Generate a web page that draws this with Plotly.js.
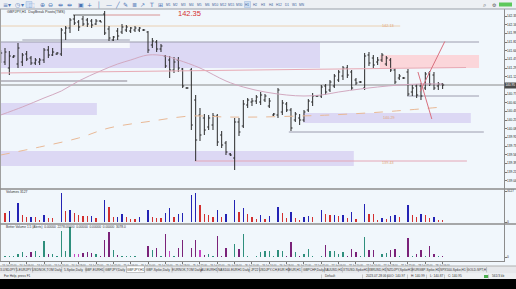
<!DOCTYPE html>
<html><head><meta charset="utf-8">
<script src="https://cdn.plot.ly/plotly-3.0.1.min.js"></script>
<style>html,body{margin:0;padding:0;background:#000;overflow:hidden}#chart{width:516px;height:289px}</style>
</head><body><div id="chart"></div>
<script>
// ---------- DATA ----------
const openP = [141.45,141.41,141.29,141.51,141.37,141.41,141.57,141.49,141.39,141.41,
141.45,141.65,141.55,141.57,141.57,141.99,142.09,142.27,142.21,142.27,
142.25,142.23,142.17,142.23,142.37,142.07,141.85,142.03,142.01,142.05,
142.03,142.05,142.05,142.05,142.01,141.75,141.81,141.67,141.53,141.45,
141.25,141.45,141.27,140.89,141.25,140.65,140.35,140.29,140.11,140.15,
140.33,139.95,139.79,139.57,139.49,140.21,140.13,140.55,140.61,140.63,
140.61,140.65,140.53,140.35,140.35,140.41,140.57,140.45,140.25,140.29,
140.25,140.45,140.61,140.73,140.73,140.93,140.85,140.93,141.05,141.13,
141.29,141.21,141.05,141.01,140.89,141.55,141.49,141.41,141.45,141.37,
141.45,141.25,141.09,141.09,141.21,140.81,140.93,140.93,140.89,141.19,
141.15,140.93,140.97];
const highP = [141.65,141.69,141.63,141.55,141.79,141.59,141.63,141.53,141.49,141.49,
141.69,141.73,141.69,141.61,142.09,142.13,142.29,142.35,142.25,142.33,
142.29,142.27,142.27,142.25,142.43,142.13,141.93,142.09,142.17,142.15,
142.11,142.13,142.11,142.07,142.03,141.89,141.85,141.77,141.55,141.53,
141.51,141.51,141.29,140.91,141.29,140.75,140.49,140.37,140.35,140.39,
140.37,140.03,139.83,139.59,140.29,140.29,140.65,140.69,140.69,140.75,
140.81,140.77,140.69,140.39,140.89,140.65,140.61,140.49,140.41,140.37,
140.45,140.67,140.79,140.75,140.95,140.97,141.05,141.17,141.25,141.33,
141.35,141.25,141.09,141.03,141.59,141.61,141.55,141.51,141.59,141.53,
141.49,141.29,141.17,141.11,141.27,140.95,140.97,140.99,141.21,141.23,
141.21,141.01,140.99];
const lowP = [141.39,141.35,141.15,141.49,141.29,141.33,141.43,141.35,141.35,141.35,
141.39,141.49,141.53,141.55,141.53,141.85,141.99,142.15,142.03,142.13,
142.11,142.09,142.15,142.21,141.95,141.83,141.83,141.85,141.97,142.01,
141.99,142.01,142.01,142.03,141.59,141.69,141.61,141.61,141.29,141.09,
141.19,141.21,140.89,140.87,140.05,139.43,139.83,139.95,140.05,140.05,
139.73,139.69,139.55,139.53,139.25,139.93,140.09,140.49,140.53,140.57,
140.55,140.61,140.49,140.33,140.29,140.35,140.41,140.03,140.21,140.15,
140.21,140.41,140.53,140.71,140.69,140.75,140.81,140.89,141.01,141.05,
141.09,140.85,140.95,140.99,140.85,141.33,141.29,141.35,141.41,141.33,
141.21,140.97,141.05,141.07,140.73,140.73,140.69,140.65,140.85,140.93,
140.85,140.85,140.87];
const closeP = [141.59,141.61,141.53,141.53,141.69,141.55,141.47,141.39,141.45,141.45,
141.65,141.55,141.61,141.59,142.05,142.09,142.25,142.19,142.11,142.17,
142.17,142.15,142.23,142.21,141.99,141.89,141.91,141.93,142.11,142.11,
142.09,142.09,142.09,142.05,141.65,141.83,141.67,141.73,141.33,141.25,
141.41,141.29,140.93,140.89,140.15,139.85,139.95,140.05,140.29,140.33,
139.81,139.75,139.61,139.55,140.21,140.01,140.57,140.65,140.63,140.71,
140.75,140.73,140.63,140.37,140.85,140.59,140.45,140.09,140.37,140.25,
140.41,140.63,140.73,140.73,140.91,140.81,141.01,141.13,141.21,141.29,
141.15,140.89,140.99,141.01,141.53,141.39,141.35,141.45,141.55,141.49,
141.25,141.01,141.13,141.09,140.77,140.89,140.75,140.73,141.17,140.97,
140.89,140.97,140.95];
const tickVolume = [1000,900,1100,50,1900,700,470,530,470,200,
700,400,380,50,2900,1100,1200,900,700,600,
580,620,400,50,2200,1500,500,540,800,500,
300,280,500,50,1200,500,400,360,900,1400,
500,800,900,50,2700,2900,1700,800,700,500,
1200,500,800,50,2200,1000,1400,800,500,300,
700,300,600,50,1500,900,400,1000,400,200,
500,600,500,50,1200,800,680,720,600,700,
400,1000,300,50,1800,800,760,200,400,300,
600,700,500,50,1700,700,500,800,700,400,
500,200,180];
const betterVolume = [60,60,130,70,330,470,130,470,600,70,
1570,270,330,70,2570,600,3000,330,330,400,
500,400,270,70,1730,2500,670,230,130,130,
130,130,50,50,1070,730,900,70,2330,570,
130,900,1730,50,900,1670,670,230,330,70,
2070,130,900,50,1330,800,2330,130,50,130,
470,570,570,130,670,600,130,1470,470,130,
330,830,130,50,130,1230,630,570,330,470,
130,800,470,70,2000,670,670,50,330,400,
670,800,130,50,1900,130,330,730,130,1070,
330,130,130];
const churnBars = [17,18,39,46];
const maIdx = [0,5,10,14,18,23,27,30,34,38,41,46,52,56,61,66,70,74,78,83,87,92,97,102];
const maVal = [140.35,140.51,140.69,140.83,141.03,141.23,141.37,141.45,141.55,141.53,141.45,141.29,141.03,140.91,140.81,140.75,140.73,140.75,140.81,140.87,140.91,140.95,140.97,140.97];
const slowIdx = [0,9,18,25,35,44,52,60,69,76,88,102];
const slowVal = [139.55,139.71,139.89,140.09,140.23,140.33,140.31,140.31,140.33,140.35,140.41,140.51];
const zoneFrom = [-0.2,14.2,-0.2,-0.2,87.5,69.8];
const zoneTo = [73.7,29.8,22.2,81.5,110.4,108.5];
const zoneTop = [141.81,141.83,140.59,139.63,141.55,140.39];
const zoneBottom = [141.29,141.69,140.35,139.33,141.29,140.19];
const zoneKind = ['demand','blank','demand','demand','supply','demand'];
const levelPrice = [141.81,142.13,141.03,140.73,140.01,139.43,142.35,142.35,141.85];
const levelFrom = [-0.2,-0.2,-0.2,93.8,66.5,44.8,16.7,24.1,5];
const levelTo = [110.4,92.2,29.2,110.4,111.5,107.6,24.1,36.8,29.8];
const levelKind = ['gray','tan','thick','gray','gray','pink','dark','red','gray'];
const trendFromIdx = [-0.2,96.8,96.3];
const trendToIdx = [107.4,102.5,99.5];
const trendFromP = [141.19,140.82,141.21];
const trendToP = [141.30,141.82,140.27];
const trendKind = ['pink','red','red'];
const levelLabelIdx = [89.5,89.7,89.5];
const levelLabelP = [142.13,140.29,139.39];
const levelLabelText = ['142.13','140.29','139.43'];
const priceTicks = [142.33,142.16,141.99,141.81,141.64,141.47,141.29,141.12,140.77,140.60,140.43,140.25,140.08,139.91,139.73,139.56,139.39,139.21,139.04];
const dateTickIdx = [2,6,10,14,18,22,26,30,34,38,42,46,50,54,58,62,66,70,74,78,82,86,90,94,98,102];
const dateLabels = ['24 Jul 02:00','24 Jul 06:00','24 Jul 10:00','24 Jul 14:00','24 Jul 18:00','24 Jul 22:00',
'25 Jul 02:00','25 Jul 06:00','25 Jul 10:00','25 Jul 14:00','25 Jul 18:00','25 Jul 22:00',
'26 Jul 02:00','26 Jul 06:00','26 Jul 10:00','26 Jul 14:00','26 Jul 18:00','26 Jul 22:00',
'27 Jul 02:00','27 Jul 06:00','27 Jul 10:00','27 Jul 14:00','27 Jul 18:00','27 Jul 22:00',
'28 Jul 02:00','28 Jul 06:00'];
const timeframes = ['M1','M2','M3','M4','M5','M6','M10','M12','M15','M30','H1','H2','H3','H4','H12','D1','W1','MN'];
const tabNames = ['3-USDJPY','5-EURJPY','USDNOK,TOM Daily','5-Spike,Daily','GBP-EURH1','GBPJPY,Daily','GBPJPY,H1','GBP-Spike,Daily','EURNOK,TOM Daily','AU-EURH1','NAS100-EURH1 Daily','JP22','USDJPY-CH,EUR H1','EUR,H1','GBPCHF,Daily','XAUUSD,H1','XTIUSD-SpikeH1','XBRUSD,H1','NZDJPY,SpikeH1','EURGBP-Spike,H1','SPX500-Spike,H1','GOLD-SPT,H'];
const activeTab = 6;

// ---------- BUILD ----------
const W=516,H=289;
const px=x=>x/W, py=y=>1-y/H;
const idx = openP.map((_,i)=>i);
const BG='#f1f7fc';

const volColors = tickVolume.map((v,i)=> (i===0||v>tickVolume[i-1]) ? '#2323b4' : '#d22f2f');
const bvColors = betterVolume.map((v,i)=> churnBars.includes(i) ? '#c645c2' : (closeP[i]>=openP[i] ? '#2f8f7d' : '#7a2279'));

const traces = [
 {type:'scatter',mode:'lines',x:slowIdx,y:slowVal,xaxis:'x',yaxis:'y',line:{color:'#e9b996',width:1,dash:'dash',shape:'spline'},hoverinfo:'skip'},
 {type:'scatter',mode:'lines',x:maIdx,y:maVal,xaxis:'x',yaxis:'y',line:{color:'#d2a9c0',width:1,shape:'spline'},hoverinfo:'skip'},
 {type:'ohlc',x:idx,open:openP,high:highP,low:lowP,close:closeP,xaxis:'x',yaxis:'y',tickwidth:0.35,
  increasing:{line:{color:'#2a2a2a',width:1}},decreasing:{line:{color:'#2a2a2a',width:1}},hoverinfo:'skip'},
 {type:'bar',x:idx,y:tickVolume,xaxis:'x',yaxis:'y2',width:0.32,marker:{color:volColors,line:{width:0}},hoverinfo:'skip'},
 {type:'bar',x:idx,y:betterVolume,xaxis:'x',yaxis:'y3',width:0.32,marker:{color:bvColors,line:{width:0}},hoverinfo:'skip'}
];

const shapes=[];
const zoneColor={demand:'#dcd8f4',blank:'#f5f7fc',supply:'#fbd6da'};
zoneKind.forEach((k,i)=>shapes.push({type:'rect',xref:'x',yref:'y',x0:zoneFrom[i],x1:zoneTo[i],y0:zoneBottom[i],y1:zoneTop[i],fillcolor:zoneColor[k],line:{width:0},layer:'below'}));
const lvlStyle={gray:{color:'#9c9cae',width:1},tan:{color:'#ead0b2',width:1},thick:{color:'#bdbdc6',width:2},pink:{color:'#e4a6b6',width:1},dark:{color:'#606060',width:1},red:{color:'#d89494',width:1}};
levelKind.forEach((k,i)=>shapes.push({type:'line',xref:'x',yref:'y',x0:levelFrom[i],x1:levelTo[i],y0:levelPrice[i],y1:levelPrice[i],line:lvlStyle[k],layer:'below'}));
const trStyle={pink:{color:'#e7a9b4',width:1},red:{color:'#d9707f',width:1}};
trendKind.forEach((k,i)=>shapes.push({type:'line',xref:'x',yref:'y',x0:trendFromIdx[i],x1:trendToIdx[i],y0:trendFromP[i],y1:trendToP[i],line:trStyle[k],layer:'above'}));
const last=closeP[closeP.length-1];
shapes.push({type:'line',xref:'paper',yref:'y',x0:0,x1:px(504),y0:last,y1:last,line:{color:'#8a8a8a',width:1},layer:'below'});
const prect=(x0,y0,x1,y1,fill,line)=>shapes.push({type:'rect',xref:'paper',yref:'paper',x0:px(x0),x1:px(x1),y0:py(y1),y1:py(y0),fillcolor:fill,line:line||{width:0},layer:'above'});
const pline=(x0,y0,x1,y1,c,w)=>shapes.push({type:'line',xref:'paper',yref:'paper',x0:px(x0),x1:px(x1),y0:py(y0),y1:py(y1),line:{color:c,width:w||1},layer:'above'});
prect(0,0,516,9,'#edf0f4');
pline(0,9,516,9,'#9aa0a8',1);
pline(0.5,9,0.5,261,'#a0a0a0',1);
pline(0,189,516,189,'#8c8c8c',1.5);
pline(0,224,516,224,'#8c8c8c',1.5);
prect(0,266,516,273.5,'#e6e8eb');
pline(0,266,516,266,'#b0b0b0',1);
prect(0,273.5,516,279,'#eef0f2');
prect(0,279,516,289,'#000000');
prect(26,1.5,32,7.5,'#cfdff3',{color:'#9bb6dc',width:0.5});
prect(244.5,1.5,250.5,7.5,'#cfdff3',{color:'#9bb6dc',width:0.5});
prect(499,2.5,512,6.5,'#5cc85c');

const ann=[];
const A=(x,y,t,o)=>ann.push(Object.assign({xref:'paper',yref:'paper',x:px(x),y:py(y),text:t,showarrow:false,xanchor:'left',yanchor:'middle',font:{size:4,color:'#333'}},o||{}));
const glyphs=[[1,'≡'],[6,'▾'],[13,'◷'],[19,'▾'],[27,'⬚'],[38,'⊕'],[46,'⊖'],[56,'⇹'],[65,'⇹'],[76,'▣'],[85,'+'],[95,'│'],[104,'—'],[113,'╱'],[121,'✎'],[130,'≣'],[138,'↗'],[147,'T'],[156,'⊞']];
glyphs.forEach(g=>A(g[0],4.8,g[1],{font:{size:6,color:'#4a74b4',family:'DejaVu Sans'}}));
timeframes.forEach((t,i)=>A(168+7.9*i,4.8,t,{xanchor:'center',font:{size:3.2,color:'#3a5f9a'}}));
A(481,4.6,'⌕',{font:{size:6,color:'#555',family:'DejaVu Sans'}});
A(490,4.6,'⚙',{font:{size:5,color:'#555',family:'DejaVu Sans'}});
A(5,11.5,'GBPJPY,H1  DayBreak Pivots(TMS)',{font:{size:3.6,color:'#333'}});
ann.push({xref:'x',yref:'y',x:43.5,y:142.39,text:'142.35',showarrow:false,font:{size:7.5,color:'#d43030'}});
levelLabelText.forEach((t,i)=>ann.push({xref:'x',yref:'y',x:levelLabelIdx[i],y:levelLabelP[i],text:t,showarrow:false,font:{size:3.8,color:'#e2a574'}}));
A(4,192,'Volumes 3127',{font:{size:3.4,color:'#333'}});
A(4,226.5,'Better Volume 1.5 (Alerts)  0.00000  2278.00000  0.00000  0.00000  0.00000  3078.0',{font:{size:3.2,color:'#333'}});
ann.push({xref:'paper',yref:'y',x:px(504.3),y:last,text:last.toFixed(2),showarrow:false,xanchor:'left',font:{size:3.1,color:'#ffffff'},bgcolor:'#4a4a4a',borderpad:0.4});
let tx=0;
tabNames.forEach((n,i)=>{
  const w=n.length*1.6+3.5;
  if(i===activeTab) prect(tx,266,tx+w,272.5,'#ffffff',{color:'#999',width:0.5});
  A(tx+w/2,269.5,n,{xanchor:'center',font:{size:3.2,color:'#333'}});
  tx+=w;
  pline(tx,267,tx,272.5,'#a5a5a5',0.6);
});
A(2,276.3,'For Help, press F1',{font:{size:3.2,color:'#333'}});
const stat=[[323,'Default'],[364,'2023.07.28 06:00'],[389,'O: '+openP[102].toFixed(2)],[409,'H: '+highP[102].toFixed(2)],[428,'L: '+lowP[102].toFixed(2)],[446,'C: '+closeP[102].toFixed(2)],[490,'561/3 kb']];
stat.forEach(s=>{A(s[0],276.3,s[1],{font:{size:3.2,color:'#333'}});pline(s[0]-1.5,274.5,s[0]-1.5,278.5,'#aaa',0.6);});
prect(484,275,488,278,'#4caf50');

const axBase={showgrid:false,zeroline:false,showline:true,linecolor:'#8c8c8c',linewidth:1,ticks:'outside',ticklen:1.5,tickcolor:'#777',fixedrange:true,automargin:false,tickfont:{size:3.1,color:'#222'}};
const layout={
 width:W,height:H,margin:{l:0,r:0,t:0,b:0,pad:0},paper_bgcolor:BG,plot_bgcolor:BG,showlegend:false,hovermode:false,dragmode:false,
 font:{family:'Liberation Sans, Arial, sans-serif',size:4,color:'#333'},
 bargap:0,
 xaxis:Object.assign({},axBase,{domain:[0,504/516],range:[-0.155,116.16],anchor:'y3',tickmode:'array',tickvals:dateTickIdx,ticktext:dateLabels,tickfont:{size:2.6,color:'#333'},rangeslider:{visible:false}}),
 yaxis:Object.assign({},axBase,{domain:[py(189),py(9)],range:[138.87,142.47],side:'right',anchor:'x',tickmode:'array',tickvals:priceTicks,ticktext:priceTicks.map(v=>v.toFixed(2))}),
 yaxis2:Object.assign({},axBase,{domain:[py(224),py(189)],range:[-200,3300],side:'right',anchor:'x',tickmode:'array',tickvals:[0,3100],ticktext:['0','3127']}),
 yaxis3:Object.assign({},axBase,{domain:[py(261),py(224)],range:[-400,3300],side:'right',anchor:'x',tickmode:'array',tickvals:[0],ticktext:['0']}),
 shapes:shapes,annotations:ann
};
Plotly.newPlot('chart',traces,layout,{staticPlot:true,displayModeBar:false});
</script></body></html>
